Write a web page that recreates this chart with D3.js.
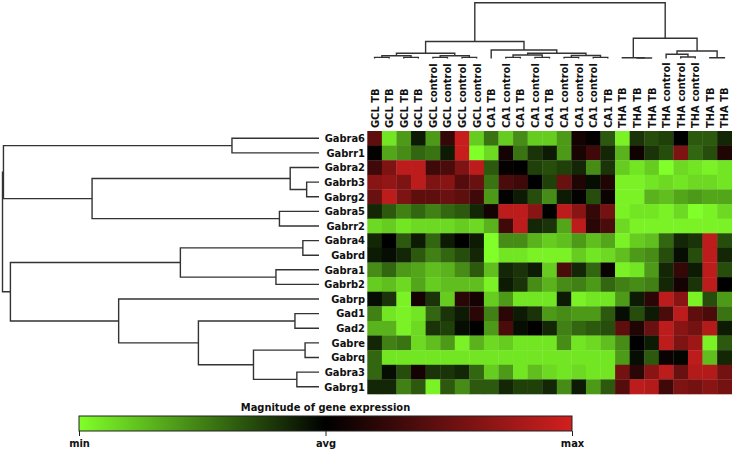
<!DOCTYPE html>
<html>
<head>
<meta charset="utf-8">
<script src="https://cdn.jsdelivr.net/npm/d3@7"></script>
<style>
  body { margin: 0; background: #fff; }
  text { font-family: "DejaVu Sans Condensed", "DejaVu Sans", sans-serif; font-weight: bold; fill: #111; }
</style>
</head>
<body>
<svg id="chart" width="734" height="452"></svg>
<script>
const genes = ["Gabra6", "Gabrr1", "Gabra2", "Gabrb3", "Gabrg2", "Gabra5", "Gabrr2", "Gabra4", "Gabrd",
  "Gabra1", "Gabrb2", "Gabrp", "Gad1", "Gad2", "Gabre", "Gabrq", "Gabra3", "Gabrg1"];

const samples = ["GCL TB", "GCL TB", "GCL TB", "GCL TB", "GCL control", "GCL control", "GCL control", "GCL control",
  "CA1 TB", "CA1 control", "CA1 TB", "CA1 control", "CA1 TB", "CA1 control", "CA1 control", "CA1 control", "CA1 TB",
  "THA TB", "THA TB", "THA TB", "THA control", "THA control", "THA control", "THA TB", "THA TB"];

// expression relative to gene mean: -1 = min, 0 = avg, 1 = max
const expression = [
  [0.45, -0.9, -0.6, -0.1, -0.6, 0.25, 0.95, -0.8, -0.45, -0.8, -0.55, -0.8, -0.8, -0.6, 0.1, 0.02, -0.35, -0.95, -0.2, -0.3, -0.25, 0, -0.35, -0.35, -0.15],
  [0.02, -0.65, -0.55, -0.4, -0.45, -0.1, 0.95, -1.0, -0.85, 0.1, -0.45, -0.2, -0.1, -0.6, 0.12, 0.3, -0.15, -0.7, 0.08, -0.2, -0.3, 0.6, -0.4, -0.3, 0.15],
  [0.3, 0.6, 0.9, 0.9, 0.3, 0.35, 0.6, 0.9, -0.35, 0.03, 0, -0.25, -0.3, -0.25, -0.15, -0.55, -0.2, -0.8, -0.9, -0.8, -1.0, -0.85, -0.9, -0.95, -0.9],
  [0.65, 0.7, 0.6, 0.9, 0.6, 0.65, 0.4, 0.5, -0.45, 0.35, 0.3, 0, -0.25, 0.5, 0.15, -0.05, 0.15, -0.95, -0.95, -0.9, -0.85, -0.9, -0.85, -0.85, -0.9],
  [0.5, 0.9, 0.6, 0.45, 0.45, 0.5, 0.45, 0.3, -0.6, 0.02, -0.1, -0.3, -0.55, -0.1, 0.02, -0.3, 0.05, -0.95, -0.95, -0.7, -0.75, -0.65, -0.6, -0.65, -0.65],
  [-0.15, -0.35, -0.5, -0.4, -0.5, -0.4, -0.35, -0.15, 0.1, 0.9, 0.9, 0.65, 0, 0.9, 0.65, 0.25, 0.55, -0.95, -0.9, -0.9, -0.95, -0.85, -1.0, -0.95, -0.85],
  [-0.85, -0.8, -0.9, -0.85, -0.85, -0.85, -0.8, -0.85, -0.7, 0.3, 0.9, -0.15, -0.2, -0.65, 0.9, 0.2, 0.35, -0.85, -0.95, -0.95, -0.95, -0.95, -0.95, -0.95, -0.95],
  [-0.15, 0, -0.35, -0.1, -0.4, -0.1, 0, -0.1, -1.0, -0.55, -0.55, -0.7, -0.8, -0.75, -0.6, -0.75, -0.65, -0.95, -0.8, -0.75, -0.4, -0.15, -0.2, 0.9, -0.3],
  [-0.1, -0.05, -0.15, -0.35, -0.5, -0.4, -0.3, -0.15, -1.0, -0.9, -0.9, -0.95, -0.95, -0.95, -0.8, -0.9, -0.85, -0.75, -0.6, -0.55, -0.3, -0.05, -0.3, 0.9, -0.15],
  [-0.55, -0.4, -0.6, -0.65, -0.75, -0.7, -0.55, -0.35, -0.75, -0.15, -0.2, -0.1, -0.8, 0.35, -0.15, -0.4, 0.05, -0.95, -0.9, -0.6, -0.15, 0.25, -0.1, 0.9, -0.3],
  [-0.8, -0.75, -0.85, -0.65, -0.8, -0.75, -0.75, -0.75, -0.95, -0.1, -0.2, -0.55, -0.7, -0.55, -0.5, -0.6, -0.4, -0.5, -0.55, -0.5, -0.15, 0.1, -0.2, 0.9, 0],
  [-0.05, -0.2, -0.95, 0.1, -0.2, -0.8, 0.2, 0.1, -0.8, -0.6, -0.9, -0.9, -0.9, -0.1, -0.95, -0.9, -0.9, -0.6, -0.1, 0.2, 0.9, 0.65, -0.95, -0.3, -0.6],
  [-0.5, -0.9, -0.95, -0.9, -0.4, -0.2, -0.1, 0.2, -0.5, 0.2, -0.1, -0.2, -0.6, -0.55, -0.6, -0.6, -0.35, -0.05, -0.3, -0.1, 0.35, 0.9, 0.45, 0.35, -0.45],
  [-0.7, -0.7, -0.95, -0.85, -0.2, -0.25, -0.05, 0, -0.6, 0.35, -0.05, 0, -0.15, -0.5, -0.4, -0.35, -0.3, 0.45, 0.15, 0.5, 0.9, 0.65, 0.55, 0.85, -0.1],
  [-0.15, -0.5, -0.45, -0.85, -0.75, -0.6, -0.95, -0.7, -0.85, -0.8, -0.9, -0.9, -0.9, -0.55, -0.9, -0.85, -0.75, -0.55, 0, -0.1, 0.9, 0.6, 0.75, -0.95, -0.35],
  [-0.4, -0.9, -0.9, -0.9, -0.9, -0.9, -0.9, -0.9, -0.9, -0.9, -0.9, -0.9, -0.9, -0.9, -0.9, -0.9, -0.9, -0.6, -0.05, -0.35, 0.05, -0.02, 0.9, -0.75, -0.15],
  [-0.4, -0.05, -0.3, 0.1, -0.2, -0.2, -0.15, -0.4, -0.8, -0.6, -0.9, -0.75, -0.85, -0.9, -0.85, -0.9, -0.9, 0.55, 0.2, 0.65, 0.9, 0.5, 0.85, 0.85, 0.55],
  [-0.15, -0.15, -0.5, -0.35, -0.95, -0.35, -0.55, -0.35, -0.35, -0.15, -0.25, -0.25, -0.15, -0.55, -0.1, -0.6, -0.35, 0.4, 0.9, 0.85, 0.3, 0.6, 0.55, 0.65, 0.55]
];

// dendrograms as [height, left, right]; leaves are row / column indices
const rowTree = [1.0,
  [0.997, [0.275, 0, 1], [0.717, [0.091, 2, [0.039, 3, 4]], [0.125, 5, 6]]],
  [0.975, [0.438, [0.051, 7, 8], [0.136, 9, 10]],
    [0.633, 11, [0.381, [0.076, 12, 13], [0.207, [0.044, 14, 15], [0.07, 16, 17]]]]]];

const colTree = [1.0,
  [0.305,
    [0.093, [0.05, [0.021, 0, 1], [0.021, 2, 3]], [0.05, [0.021, 4, 5], [0.021, 6, 7]]],
    [0.152, 8, [0.093, [0.063, [0.021, 9, 10], [0.021, 11, 12]], [0.054, [0.021, 13, 14], [0.021, 15, 16]]]]],
  [0.362,
    [0.014, 17, [0.008, 18, 19]],
    [0.134, [0.075, 20, [0.027, 21, 22]], [0.014, 23, 24]]]];

const legendTicks = ["min", "avg", "max"];

const svg = d3.select("#chart");
svg.append("rect").attr("width", 734).attr("height", 452).attr("fill", "#fff");

const heat = { left: 367.3, right: 731.7, top: 131, bottom: 394 };

const x = d3.scaleBand().domain(d3.range(samples.length)).range([heat.left, heat.right]);
const y = d3.scaleBand().domain(d3.range(genes.length)).range([heat.top, heat.bottom]);
const color = d3.scaleLinear().domain([-1, 0, 1]).range(["#80ff28", "#000000", "#d21f1f"]);

// heatmap cells
svg.append("g")
  .selectAll("g")
  .data(expression)
  .join("g")
  .selectAll("rect")
  .data((row, i) => row.map((v, j) => ({ i, j, v })))
  .join("rect")
  .attr("x", (d) => x(d.j))
  .attr("y", (d) => y(d.i))
  .attr("width", x.bandwidth() + 0.3)
  .attr("height", y.bandwidth() + 0.3)
  .attr("fill", (d) => color(d.v));

// row labels
svg.append("g")
  .selectAll("text")
  .data(genes)
  .join("text")
  .attr("x", 365)
  .attr("y", (d, i) => y(i) + y.bandwidth() / 2)
  .attr("dy", "0.35em")
  .attr("text-anchor", "end")
  .attr("font-size", 11)
  .text((d) => d);

// column labels
svg.append("g")
  .selectAll("text")
  .data(samples)
  .join("text")
  .attr("transform", (d, i) => `translate(${x(i) + x.bandwidth() / 2},128) rotate(-90)`)
  .attr("dy", "0.36em")
  .attr("font-size", 11)
  .text((d) => d);

// elbow dendrogram: pos() maps leaf index to position, hgt() maps height to the other axis
function drawTree(tree, pos, hgt, horizontal) {
  const segs = [];
  function walk(node) {
    if (typeof node === "number") return { p: pos(node), h: hgt(0) };
    const a = walk(node[1]), b = walk(node[2]);
    const H = hgt(node[0]);
    segs.push([[a.h, a.p], [H, a.p], [H, b.p], [b.h, b.p]]);
    return { p: (a.p + b.p) / 2, h: H };
  }
  walk(tree);
  const line = d3.line().x((d) => (horizontal ? d[0] : d[1])).y((d) => (horizontal ? d[1] : d[0]));
  svg.append("g")
    .selectAll("path")
    .data(segs)
    .join("path")
    .attr("d", line)
    .attr("fill", "none")
    .attr("stroke", "#333")
    .attr("stroke-width", 1.4);
}

const rowDist = d3.scaleLinear().domain([0, 1]).range([319, 2.5]);
drawTree(rowTree, (i) => y(i) + y.bandwidth() / 2, rowDist, true);

const colDist = d3.scaleLinear().domain([0, 1]).range([58.5, 2.7]);
drawTree(colTree, (j) => x(j) + x.bandwidth() / 2, colDist, false);

// legend
const legend = { left: 79, right: 572, top: 416, height: 15 };
const grad = svg.append("defs").append("linearGradient").attr("id", "grad");
grad.selectAll("stop")
  .data([-1, -0.5, 0, 0.5, 1])
  .join("stop")
  .attr("offset", (d) => `${(d + 1) * 50}%`)
  .attr("stop-color", (d) => color(d));

const lx = d3.scalePoint().domain(legendTicks).range([legend.left, legend.right]);

svg.append("text")
  .attr("x", (legend.left + legend.right) / 2)
  .attr("y", 411)
  .attr("text-anchor", "middle")
  .attr("font-size", 11)
  .text("Magnitude of gene expression");

svg.append("rect")
  .attr("x", legend.left)
  .attr("y", legend.top)
  .attr("width", legend.right - legend.left)
  .attr("height", legend.height)
  .attr("fill", "url(#grad)")
  .attr("stroke", "#222")
  .attr("stroke-width", 1);

const lg = svg.append("g").attr("transform", `translate(0,${legend.top + legend.height})`);
lg.call(d3.axisBottom(lx).tickSize(5).tickPadding(3));
lg.select(".domain").remove();
lg.selectAll(".tick line").attr("stroke", "#222");
lg.selectAll(".tick text")
  .attr("font-size", 11)
  .attr("font-family", null)
  .attr("fill", "#111");
</script>
</body>
</html>
